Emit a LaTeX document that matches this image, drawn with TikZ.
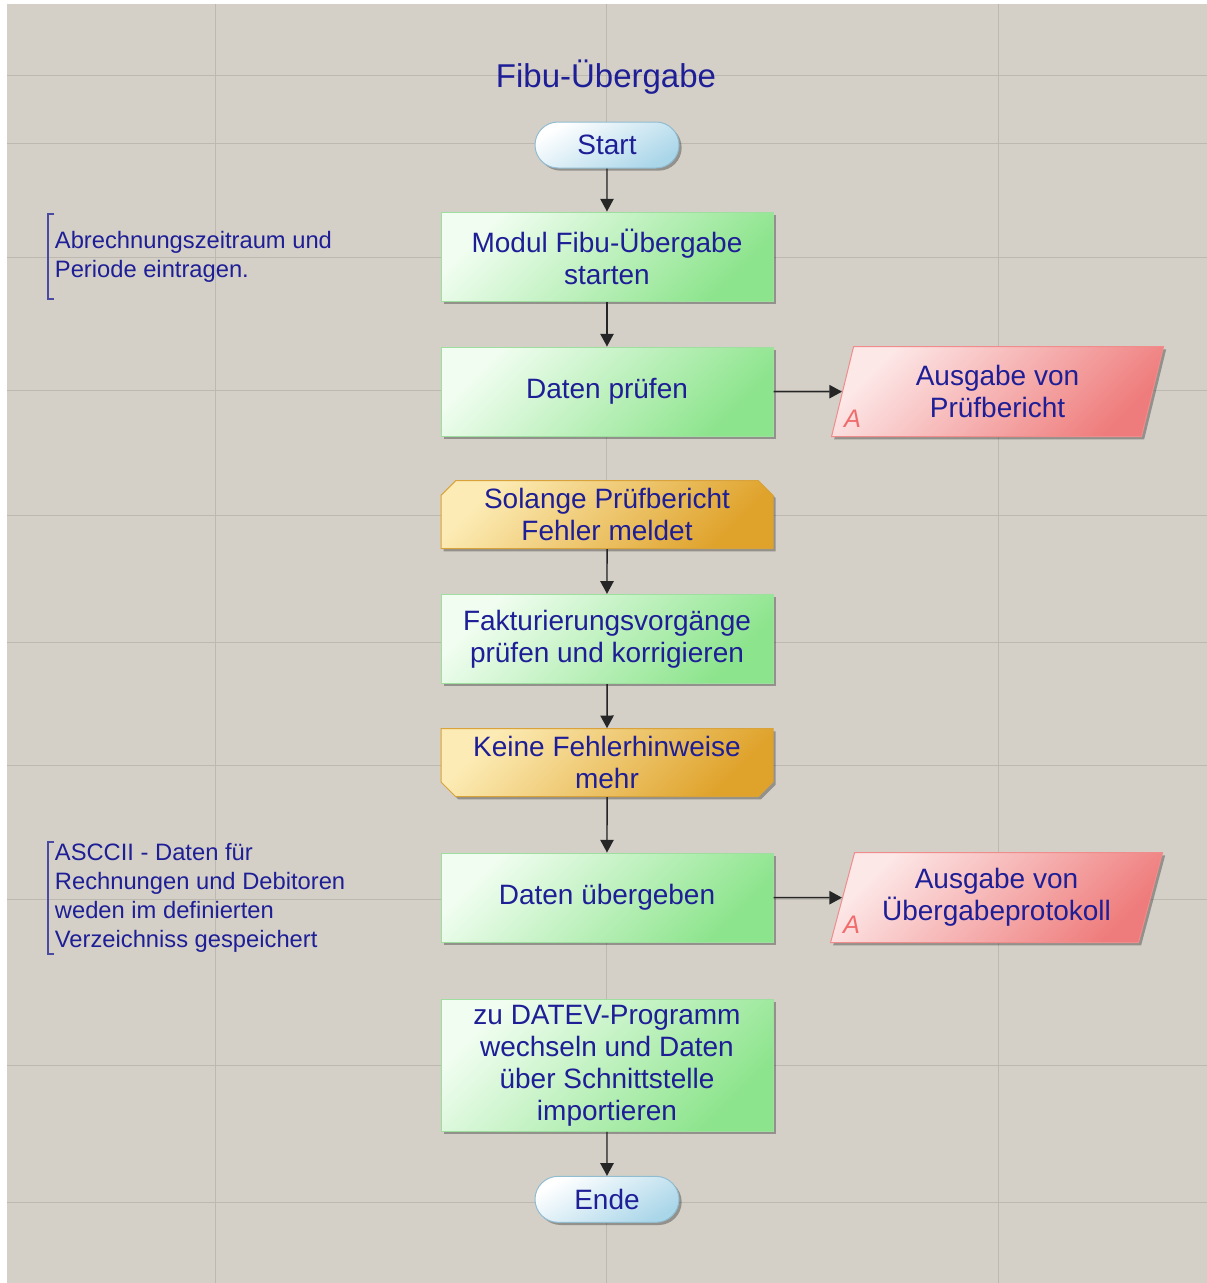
\documentclass[tikz,border=0pt]{standalone}
\usepackage{fontspec}
\setmainfont{Liberation Sans}
\usetikzlibrary{positioning,shapes.geometric,shapes.misc,shadows,arrows.meta}
\definecolor{paper}{HTML}{D4D0C8}
\definecolor{gridgray}{HTML}{BDB9B1}
\definecolor{ink}{HTML}{1E1E96}
\definecolor{greenA}{HTML}{F0FDF0}
\definecolor{greenB}{HTML}{8CE48C}
\definecolor{greenE}{HTML}{9EDE9E}
\definecolor{orangeA}{HTML}{FCEBB4}
\definecolor{orangeB}{HTML}{DFA22A}
\definecolor{orangeE}{HTML}{D9A23A}
\definecolor{redA}{HTML}{FDE8E8}
\definecolor{redB}{HTML}{EF7C7C}
\definecolor{redE}{HTML}{F08C8C}
\definecolor{redmark}{HTML}{F06C6C}
\definecolor{blueB}{HTML}{AAD6E9}
\definecolor{blueE}{HTML}{92BCD0}
\definecolor{bracketblue}{HTML}{4A4AA2}
\tikzset{boxshadow/.style={drop shadow={shadow xshift=2pt,shadow yshift=-2pt,fill=black,opacity=.3}},
         boxtext/.style={align=center,text=ink,font=\fontsize{21}{24}\selectfont,inner sep=3pt},
         stepbox/.style={rectangle,boxtext,draw=greenE,line width=.75pt,
                         top color=greenA,bottom color=greenB,shading angle=45,boxshadow,
                         minimum width=249pt,minimum height=67pt},
         loopbox/.style={chamfered rectangle,boxtext,inner ysep=0pt,draw=orangeE,line width=.75pt,
                         top color=orangeA,bottom color=orangeB,shading angle=45,boxshadow,
                         chamfered rectangle xsep=5.5pt,chamfered rectangle ysep=5.5pt,
                         minimum width=249pt,minimum height=51pt},
         endbox/.style={rounded rectangle,boxtext,draw=blueE,line width=.75pt,
                        top color=white,bottom color=blueB,shading angle=30,boxshadow,
                        minimum width=114pt,minimum height=34.5pt},
         outbox/.style={trapezium,trapezium left angle=70,trapezium right angle=110,
                        trapezium stretches body,boxtext,draw=redE,line width=.75pt,
                        top color=redA,bottom color=redB,shading angle=45,boxshadow,
                        minimum width=249pt,minimum height=67.5pt},
         amark/.style={font=\fontsize{19}{19}\selectfont\itshape,text=redmark,inner sep=0pt,anchor=base west},
         note/.style={align=left,text=ink,font=\fontsize{17.8}{21.75}\selectfont,
                      inner xsep=5pt,inner ysep=1pt,anchor=west},
         bracketline/.style={draw=bracketblue,line width=1.5pt},
         arr/.style={draw=black!85,line width=1.1pt,-{Triangle[length=9.5pt,width=10pt]}}}

\begin{document}
\begin{tikzpicture}[x=0.75pt,y=-0.75pt]

\useasboundingbox (0,0) rectangle (1207,1283);
\fill[white] (0,0) rectangle (1207,1283);
\fill[paper] (7,4) rectangle (1207,1283);
\foreach \gy in {75,143,257,390,515,642,765,899,1065,1202}
  {\draw[gridgray,line width=.75pt] (7,\gy) -- (1207,\gy);}
\foreach \gx in {215,606,998}
  {\draw[gridgray,line width=.75pt] (\gx,4) -- (\gx,1283);}

\node[text=ink,font=\fontsize{24.75}{28}\selectfont] (T) at (606,77) {Fibu-Übergabe};

\node[endbox] (S1) at (607,145) {Start};
\node[stepbox,below=32.25pt of S1] (M1) {Modul Fibu-Übergabe\\starten};
\node[stepbox,below=33.5pt of M1] (M2) {Daten prüfen};
\node[loopbox,chamfered rectangle corners={north west,north east},below=32.5pt of M2] (L1) {Solange Prüfbericht\\Fehler meldet};
\node[stepbox,below=33.5pt of L1] (M3) {Fakturierungsvorgänge\\prüfen und korrigieren};
\node[loopbox,chamfered rectangle corners={south west,south east},below=33pt of M3] (L2) {Keine Fehlerhinweise\\mehr};
\node[stepbox,below=41.5pt of L2] (M4) {Daten übergeben};
\node[stepbox,minimum height=99pt,below=42pt of M4] (M5) {zu DATEV-Programm\\wechseln und Daten\\über Schnittstelle\\importieren};
\node[endbox,below=33pt of M5] (E1) {Ende};

\node[outbox,right=51.4pt of M2] (P1) {Ausgabe von\\Prüfbericht};
\node[outbox,right=51.4pt of M4] (P2) {Ausgabe von\\Übergabeprotokoll};
\node[amark] (A1) at ([shift={(13,-10)}]P1.bottom left corner) {A};
\node[amark] (A2) at ([shift={(13,-10)}]P2.bottom left corner) {A};

\node[note,minimum height=63pt] (N1) at (48,0 |- M1) {Abrechnungszeitraum und\\Periode eintragen.};
\node[note] (N2) at (48,0 |- M4) {ASCCII - Daten für\\Rechnungen und Debitoren\\weden im definierten\\Verzeichniss gespeichert};
\draw[bracketline] ([xshift=4.5pt]N1.north west) -- (N1.north west) -- (N1.south west) -- ([xshift=4.5pt]N1.south west);
\draw[bracketline] ([xshift=4.5pt]N2.north west) -- (N2.north west) -- (N2.south west) -- ([xshift=4.5pt]N2.south west);

\draw[arr] (S1) -- (M1);
\draw[arr] (M1) -- (M2);
\draw[arr] (L1) -- (M3);
\draw[arr] (M3) -- (L2);
\draw[arr] (L2) -- (M4);
\draw[arr] (M5) -- (E1);
\draw[arr] (M2) -- (P1);
\draw[arr] (M4) -- (P2);

\end{tikzpicture}
\end{document}
